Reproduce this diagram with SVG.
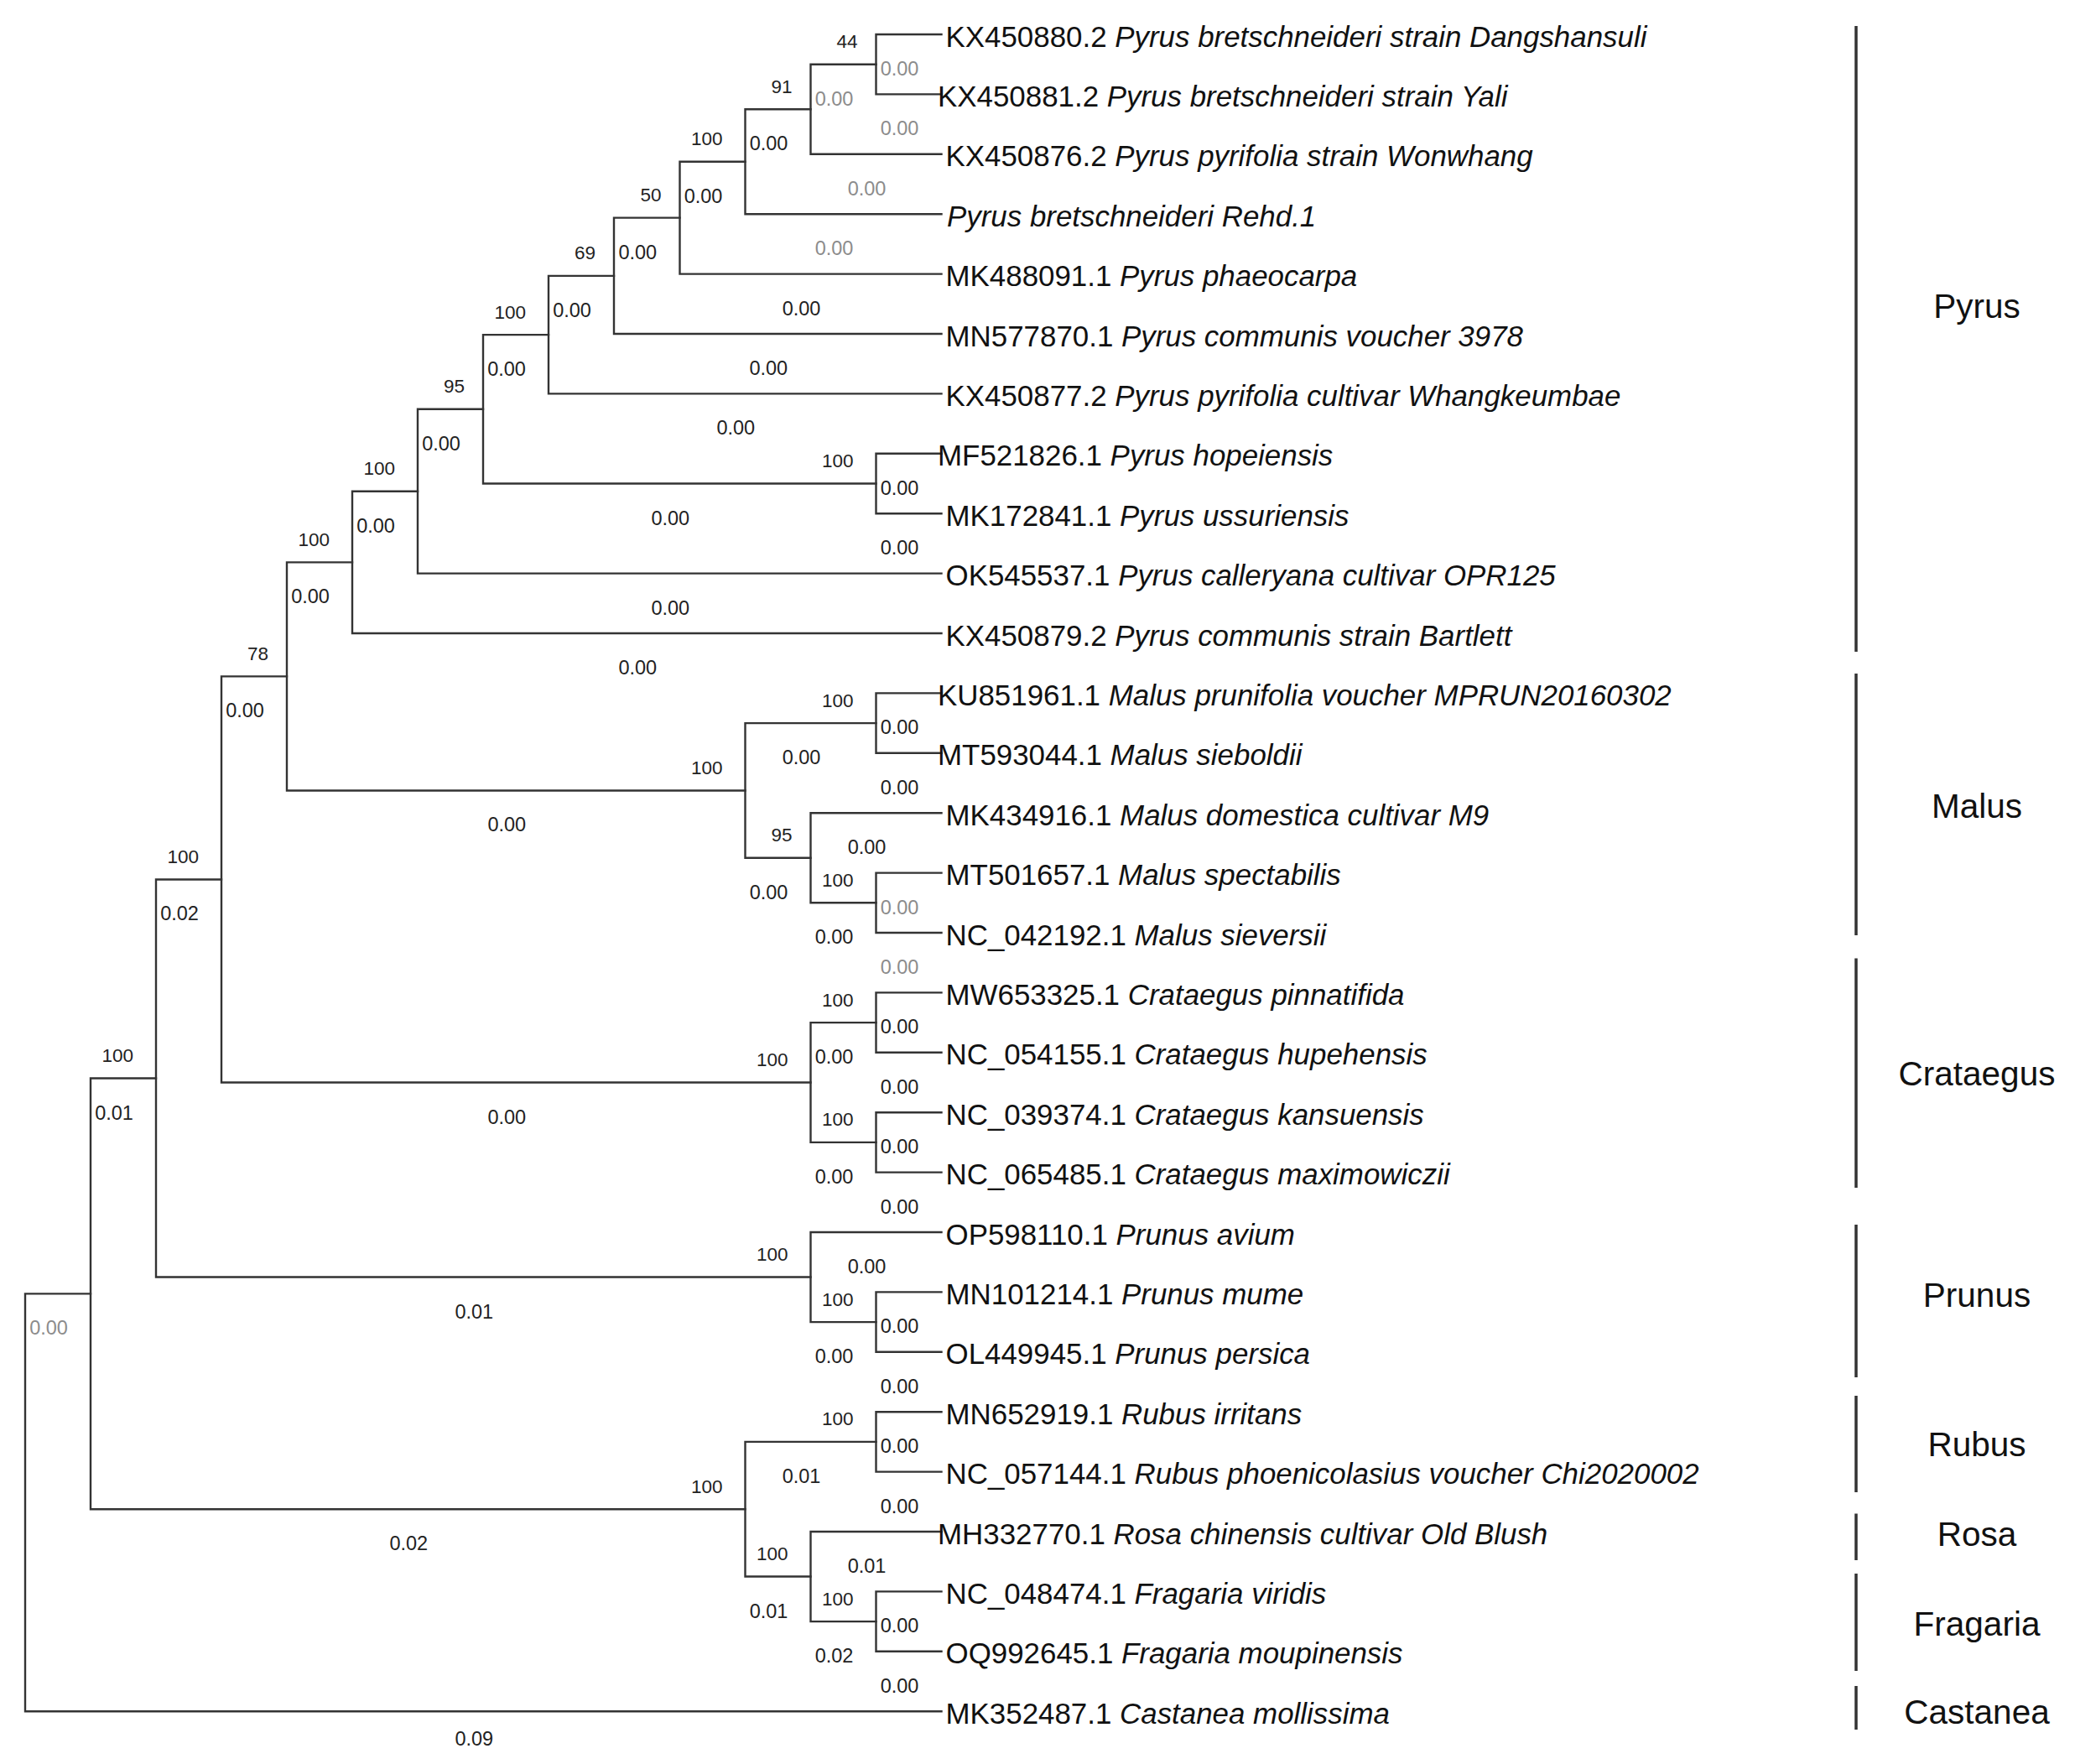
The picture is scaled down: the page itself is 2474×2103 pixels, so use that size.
<svg xmlns="http://www.w3.org/2000/svg" width="2474" height="2103" viewBox="0 0 2474 2103">
<style>
text{font-family:"Liberation Sans",Arial,sans-serif}
.br{fill:none;stroke:#333;stroke-width:2.4;stroke-linecap:square}
.bar{stroke:#333;stroke-width:3.5}
.bl{font-size:23.5px;fill:#222;text-anchor:middle}
.g{fill:#8c8c8c}
.bs{font-size:22.5px;fill:#222;text-anchor:end}
.lf{font-size:34.9px;fill:#111}
.sp{font-style:italic}
.cl{font-size:40.5px;fill:#111;text-anchor:middle}
</style>
<rect width="2474" height="2103" fill="#fff"/>
<g id="connectors">
<path class="br" d="M108 1542.36H30V2040.2H1122.5"/>
<path class="br" d="M186 1285.5H108V1799.23H888.5"/>
<path class="br" d="M264 1048.45H186V1522.55H966.5"/>
<path class="br" d="M342 806.39H264V1290.5H966.5"/>
<path class="br" d="M420 670.35H342V942.43H888.5"/>
<path class="br" d="M498 585.7H420V755H1122.5"/>
<path class="br" d="M576 487.81H498V683.6H1122.5"/>
<path class="br" d="M654 399.12H576V576.5H1044.5"/>
<path class="br" d="M732 328.83H654V469.4H1122.5"/>
<path class="br" d="M810.5 259.66H732V398H1122.5"/>
<path class="br" d="M888.5 192.73H810.5V326.6H1122.5"/>
<path class="br" d="M966.5 130.25H888.5V255.2H1122.5"/>
<path class="br" d="M1044.5 76.7H966.5V183.8H1122.5"/>
<path class="br" d="M1122.5 41H1044.5V112.4H1122.5"/>
<path class="br" d="M1122.5 540.8H1044.5V612.2H1122.5"/>
<path class="br" d="M1044.5 862.1H888.5V1022.75H966.5"/>
<path class="br" d="M1122.5 826.4H1044.5V897.8H1122.5"/>
<path class="br" d="M1122.5 969.2H966.5V1076.3H1044.5"/>
<path class="br" d="M1122.5 1040.6H1044.5V1112H1122.5"/>
<path class="br" d="M1044.5 1219.1H966.5V1361.9H1044.5"/>
<path class="br" d="M1122.5 1183.4H1044.5V1254.8H1122.5"/>
<path class="br" d="M1122.5 1326.2H1044.5V1397.6H1122.5"/>
<path class="br" d="M1122.5 1469H966.5V1576.1H1044.5"/>
<path class="br" d="M1122.5 1540.4H1044.5V1611.8H1122.5"/>
<path class="br" d="M1044.5 1718.9H888.5V1879.55H966.5"/>
<path class="br" d="M1122.5 1683.2H1044.5V1754.6H1122.5"/>
<path class="br" d="M1122.5 1826H966.5V1933.1H1044.5"/>
<path class="br" d="M1122.5 1897.4H1044.5V1968.8H1122.5"/>
</g>
<g id="branch-lengths">
<text class="bl g" x="58" y="1591.4">0.00</text>
<text class="bl" x="565.25" y="2081">0.09</text>
<text class="bl" x="136" y="1334.5">0.01</text>
<text class="bl" x="487.25" y="1848.2">0.02</text>
<text class="bl" x="214" y="1097.45">0.02</text>
<text class="bl" x="565.25" y="1571.55">0.01</text>
<text class="bl" x="292" y="855.39">0.00</text>
<text class="bl" x="604.25" y="1339.5">0.00</text>
<text class="bl" x="370" y="719.35">0.00</text>
<text class="bl" x="604.25" y="991.43">0.00</text>
<text class="bl" x="448" y="634.7">0.00</text>
<text class="bl" x="760.25" y="804">0.00</text>
<text class="bl" x="526" y="536.81">0.00</text>
<text class="bl" x="799.25" y="732.6">0.00</text>
<text class="bl" x="604" y="448.12">0.00</text>
<text class="bl" x="799.25" y="625.5">0.00</text>
<text class="bl" x="682" y="377.83">0.00</text>
<text class="bl" x="877.25" y="518.4">0.00</text>
<text class="bl" x="760.25" y="308.66">0.00</text>
<text class="bl" x="916.25" y="447">0.00</text>
<text class="bl" x="838.5" y="241.73">0.00</text>
<text class="bl" x="955.5" y="375.6">0.00</text>
<text class="bl" x="916.5" y="179.25">0.00</text>
<text class="bl g" x="994.5" y="304.2">0.00</text>
<text class="bl g" x="994.5" y="125.7">0.00</text>
<text class="bl g" x="1033.5" y="232.8">0.00</text>
<text class="bl g" x="1072.5" y="90">0.00</text>
<text class="bl g" x="1072.5" y="161.4">0.00</text>
<text class="bl" x="1072.5" y="589.8">0.00</text>
<text class="bl" x="1072.5" y="661.2">0.00</text>
<text class="bl" x="955.5" y="911.1">0.00</text>
<text class="bl" x="916.5" y="1071.75">0.00</text>
<text class="bl" x="1072.5" y="875.4">0.00</text>
<text class="bl" x="1072.5" y="946.8">0.00</text>
<text class="bl" x="1033.5" y="1018.2">0.00</text>
<text class="bl" x="994.5" y="1125.3">0.00</text>
<text class="bl g" x="1072.5" y="1089.6">0.00</text>
<text class="bl g" x="1072.5" y="1161">0.00</text>
<text class="bl" x="994.5" y="1268.1">0.00</text>
<text class="bl" x="994.5" y="1410.9">0.00</text>
<text class="bl" x="1072.5" y="1232.4">0.00</text>
<text class="bl" x="1072.5" y="1303.8">0.00</text>
<text class="bl" x="1072.5" y="1375.2">0.00</text>
<text class="bl" x="1072.5" y="1446.6">0.00</text>
<text class="bl" x="1033.5" y="1518">0.00</text>
<text class="bl" x="994.5" y="1625.1">0.00</text>
<text class="bl" x="1072.5" y="1589.4">0.00</text>
<text class="bl" x="1072.5" y="1660.8">0.00</text>
<text class="bl" x="955.5" y="1767.9">0.01</text>
<text class="bl" x="916.5" y="1928.55">0.01</text>
<text class="bl" x="1072.5" y="1732.2">0.00</text>
<text class="bl" x="1072.5" y="1803.6">0.00</text>
<text class="bl" x="1033.5" y="1875">0.01</text>
<text class="bl" x="994.5" y="1982.1">0.02</text>
<text class="bl" x="1072.5" y="1946.4">0.00</text>
<text class="bl" x="1072.5" y="2017.8">0.00</text>
</g>
<g id="support-values">
<text class="bs" x="1022.5" y="57.2">44</text>
<text class="bs" x="944.5" y="110.75">91</text>
<text class="bs" x="861.5" y="173.2">100</text>
<text class="bs" x="788.5" y="240.2">50</text>
<text class="bs" x="710" y="309.3">69</text>
<text class="bs" x="627" y="379.6">100</text>
<text class="bs" x="554" y="468.3">95</text>
<text class="bs" x="471" y="566.2">100</text>
<text class="bs" x="393" y="650.85">100</text>
<text class="bs" x="320" y="786.9">78</text>
<text class="bs" x="237" y="1028.95">100</text>
<text class="bs" x="159" y="1266">100</text>
<text class="bs" x="1017.5" y="557">100</text>
<text class="bs" x="861.5" y="922.9">100</text>
<text class="bs" x="1017.5" y="842.6">100</text>
<text class="bs" x="944.5" y="1003.25">95</text>
<text class="bs" x="1017.5" y="1056.8">100</text>
<text class="bs" x="939.5" y="1271">100</text>
<text class="bs" x="1017.5" y="1199.6">100</text>
<text class="bs" x="1017.5" y="1342.4">100</text>
<text class="bs" x="939.5" y="1503">100</text>
<text class="bs" x="1017.5" y="1556.6">100</text>
<text class="bs" x="861.5" y="1779.7">100</text>
<text class="bs" x="1017.5" y="1699.4">100</text>
<text class="bs" x="939.5" y="1860">100</text>
<text class="bs" x="1017.5" y="1913.6">100</text>
</g>
<g id="leaves">
<g id="leaf-KX450880"><text class="lf" x="1127.5" y="55.5">KX450880.2 <tspan class="sp">Pyrus bretschneideri strain Dangshansuli</tspan></text></g>
<g id="leaf-KX450881"><text class="lf" x="1118" y="126.9">KX450881.2 <tspan class="sp">Pyrus bretschneideri strain Yali</tspan></text></g>
<g id="leaf-KX450876"><text class="lf" x="1127.5" y="198.3">KX450876.2 <tspan class="sp">Pyrus pyrifolia strain Wonwhang</tspan></text></g>
<g id="leaf-Rehd1"><text class="lf sp" x="1129" y="269.7">Pyrus bretschneideri Rehd.1</text></g>
<g id="leaf-MK488091"><text class="lf" x="1127.5" y="341.1">MK488091.1 <tspan class="sp">Pyrus phaeocarpa</tspan></text></g>
<g id="leaf-MN577870"><text class="lf" x="1127.5" y="412.5">MN577870.1 <tspan class="sp">Pyrus communis voucher 3978</tspan></text></g>
<g id="leaf-KX450877"><text class="lf" x="1127.5" y="483.9">KX450877.2 <tspan class="sp">Pyrus pyrifolia cultivar Whangkeumbae</tspan></text></g>
<g id="leaf-MF521826"><text class="lf" x="1118" y="555.3">MF521826.1 <tspan class="sp">Pyrus hopeiensis</tspan></text></g>
<g id="leaf-MK172841"><text class="lf" x="1127.5" y="626.7">MK172841.1 <tspan class="sp">Pyrus ussuriensis</tspan></text></g>
<g id="leaf-OK545537"><text class="lf" x="1127.5" y="698.1">OK545537.1 <tspan class="sp">Pyrus calleryana cultivar OPR125</tspan></text></g>
<g id="leaf-KX450879"><text class="lf" x="1127.5" y="769.5">KX450879.2 <tspan class="sp">Pyrus communis strain Bartlett</tspan></text></g>
<g id="leaf-KU851961"><text class="lf" x="1118" y="840.9">KU851961.1 <tspan class="sp">Malus prunifolia voucher MPRUN20160302</tspan></text></g>
<g id="leaf-MT593044"><text class="lf" x="1118" y="912.3">MT593044.1 <tspan class="sp">Malus sieboldii</tspan></text></g>
<g id="leaf-MK434916"><text class="lf" x="1127.5" y="983.7">MK434916.1 <tspan class="sp">Malus domestica cultivar M9</tspan></text></g>
<g id="leaf-MT501657"><text class="lf" x="1127.5" y="1055.1">MT501657.1 <tspan class="sp">Malus spectabilis</tspan></text></g>
<g id="leaf-NC042192"><text class="lf" x="1127.5" y="1126.5">NC_042192.1 <tspan class="sp">Malus sieversii</tspan></text></g>
<g id="leaf-MW653325"><text class="lf" x="1127.5" y="1197.9">MW653325.1 <tspan class="sp">Crataegus pinnatifida</tspan></text></g>
<g id="leaf-NC054155"><text class="lf" x="1127.5" y="1269.3">NC_054155.1 <tspan class="sp">Crataegus hupehensis</tspan></text></g>
<g id="leaf-NC039374"><text class="lf" x="1127.5" y="1340.7">NC_039374.1 <tspan class="sp">Crataegus kansuensis</tspan></text></g>
<g id="leaf-NC065485"><text class="lf" x="1127.5" y="1412.1">NC_065485.1 <tspan class="sp">Crataegus maximowiczii</tspan></text></g>
<g id="leaf-OP598110"><text class="lf" x="1127.5" y="1483.5">OP598110.1 <tspan class="sp">Prunus avium</tspan></text></g>
<g id="leaf-MN101214"><text class="lf" x="1127.5" y="1554.9">MN101214.1 <tspan class="sp">Prunus mume</tspan></text></g>
<g id="leaf-OL449945"><text class="lf" x="1127.5" y="1626.3">OL449945.1 <tspan class="sp">Prunus persica</tspan></text></g>
<g id="leaf-MN652919"><text class="lf" x="1127.5" y="1697.7">MN652919.1 <tspan class="sp">Rubus irritans</tspan></text></g>
<g id="leaf-NC057144"><text class="lf" x="1127.5" y="1769.1">NC_057144.1 <tspan class="sp">Rubus phoenicolasius voucher Chi2020002</tspan></text></g>
<g id="leaf-MH332770"><text class="lf" x="1118" y="1840.5">MH332770.1 <tspan class="sp">Rosa chinensis cultivar Old Blush</tspan></text></g>
<g id="leaf-NC048474"><text class="lf" x="1127.5" y="1911.9">NC_048474.1 <tspan class="sp">Fragaria viridis</tspan></text></g>
<g id="leaf-OQ992645"><text class="lf" x="1127.5" y="1983.3">OQ992645.1 <tspan class="sp">Fragaria moupinensis</tspan></text></g>
<g id="leaf-MK352487"><text class="lf" x="1127.5" y="2054.7">MK352487.1 <tspan class="sp">Castanea mollissima</tspan></text></g>
</g>
<g id="clades">
<g id="clade-Pyrus"><line class="bar" x1="2213" y1="31" x2="2213" y2="777"/><text class="cl" x="2357" y="379">Pyrus</text></g>
<g id="clade-Malus"><line class="bar" x1="2213" y1="803" x2="2213" y2="1115"/><text class="cl" x="2357" y="974.5">Malus</text></g>
<g id="clade-Crataegus"><line class="bar" x1="2213" y1="1142.5" x2="2213" y2="1416"/><text class="cl" x="2357" y="1294">Crataegus</text></g>
<g id="clade-Prunus"><line class="bar" x1="2213" y1="1460" x2="2213" y2="1642"/><text class="cl" x="2357" y="1557.5">Prunus</text></g>
<g id="clade-Rubus"><line class="bar" x1="2213" y1="1664" x2="2213" y2="1779"/><text class="cl" x="2357" y="1735.5">Rubus</text></g>
<g id="clade-Rosa"><line class="bar" x1="2213" y1="1804.5" x2="2213" y2="1860"/><text class="cl" x="2357" y="1842.5">Rosa</text></g>
<g id="clade-Fragaria"><line class="bar" x1="2213" y1="1876" x2="2213" y2="1992"/><text class="cl" x="2357" y="1949.5">Fragaria</text></g>
<g id="clade-Castanea"><line class="bar" x1="2213" y1="2010" x2="2213" y2="2062"/><text class="cl" x="2357" y="2054.5">Castanea</text></g>
</g>
</svg>
